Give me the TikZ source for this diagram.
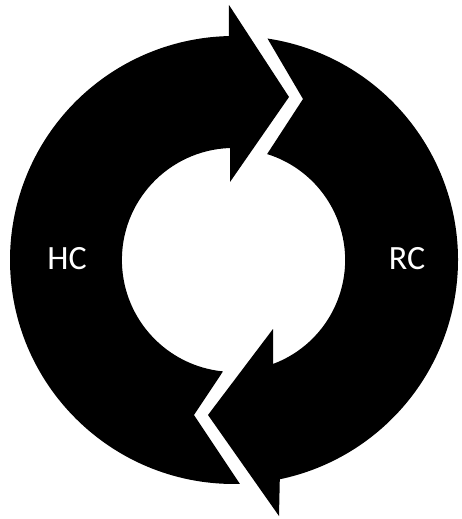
\documentclass[tikz,border=0pt]{standalone}
\usepackage{fontspec}
\setmainfont{Carlito}
\usepackage{tikz}
\usetikzlibrary{positioning}

\begin{document}
\begin{tikzpicture}[
    x=1pt, y=1pt,
    ring/.style={fill=black, draw=none},
    lbl/.style={text=white, font=\fontsize{34}{40}\selectfont, inner sep=0pt}
]
\useasboundingbox (-234,-259) rectangle (228,260);
% left arrow (bottom -> left -> top)
\fill[ring] (271.5:224) arc[start angle=271.5, end angle=91.3, radius=224]
    -- (-5,255) -- (55,163) -- (-4,78) -- (-4,112)
    arc[start angle=92, end angle=264.4, radius=112]
    -- (-40,-155) -- cycle;
% right arrow (top -> right -> bottom)
\fill[ring] (81.4:224) arc[start angle=81.4, end angle=-78.2, radius=224]
    -- (45,-256) -- (-26,-155) -- (39,-69) -- (39,-104)
    arc[start angle=-69.5, end angle=72.7, radius=111]
    -- (69,161) -- cycle;
\node[lbl] (hc) at (-167,1) {HC};
\node[lbl] (rc) at (173,1) {RC};
\end{tikzpicture}
\end{document}
